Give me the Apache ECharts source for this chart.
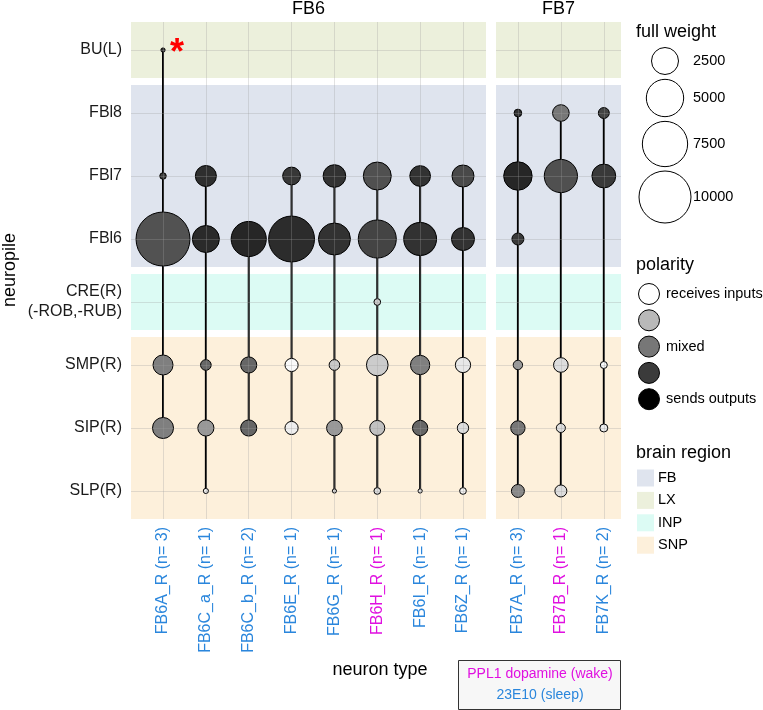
<!DOCTYPE html>
<html>
<head>
<meta charset="utf-8">
<script src="https://cdn.jsdelivr.net/npm/echarts@6/dist/echarts.min.js"></script>
<style>
html, body { margin: 0; padding: 0; background: #fff; }
#chart { width: 763px; height: 710px; }
</style>
</head>
<body>
<div id="chart"></div>
<script>
// neuropils (y), top to bottom
const neuropils = ['BU(L)', 'FBl8', 'FBl7', 'FBl6', 'CRE(R)\n(-ROB,-RUB)', 'SMP(R)', 'SIP(R)', 'SLP(R)'];
const neuropilRegion = ['LX', 'FB', 'FB', 'FB', 'INP', 'SNP', 'SNP', 'SNP'];
const regions = ['FB', 'LX', 'INP', 'SNP'];
const regionColors = ['#dfe4ee', '#ecf0dc', '#dcfbf4', '#fdf0db'];

// neuron types (x) per facet
const fb6Types = ['FB6A_R (n= 3)', 'FB6C_a_R (n= 1)', 'FB6C_b_R (n= 2)', 'FB6E_R (n= 1)', 'FB6G_R (n= 1)', 'FB6H_R (n= 1)', 'FB6I_R (n= 1)', 'FB6Z_R (n= 1)'];
const fb6Dopamine = [false, false, false, false, false, true, false, false];
const fb7Types = ['FB7A_R (n= 3)', 'FB7B_R (n= 1)', 'FB7K_R (n= 2)'];
const fb7Dopamine = [false, true, false];

// full weight, one row per neuron type, columns follow neuropils
const fb6Weight = [
  [20, null, 80, 10800, null, 1300, 1450, null],
  [null, null, 1450, 2500, null, 300, 800, 40],
  [null, null, null, 4400, null, 800, 800, null],
  [null, null, 1000, 7700, null, 500, 500, null],
  [null, null, 1700, 3600, null, 300, 750, 20],
  [null, null, 2700, 5200, 90, 1550, 680, 90],
  [null, null, 1400, 3800, null, 1200, 710, 20],
  [null, null, 1600, 1760, null, 710, 350, 90]
];
// polarity, 0 = receives inputs, 1 = sends outputs
const fb6Polarity = [
  [0.79, null, 0.74, 0.65, null, 0.47, 0.47, null],
  [null, null, 0.81, 0.83, null, 0.57, 0.37, 0.05],
  [null, null, null, 0.85, null, 0.57, 0.57, null],
  [null, null, 0.77, 0.82, null, 0.02, 0.06, null],
  [null, null, 0.79, 0.79, null, 0.19, 0.37, 0.12],
  [null, null, 0.66, 0.71, 0.18, 0.18, 0.22, 0.12],
  [null, null, 0.79, 0.79, null, 0.47, 0.57, 0.06],
  [null, null, 0.69, 0.79, null, 0.08, 0.12, 0.04]
];
const fb7Weight = [
  [null, 130, 2800, 400, null, 220, 610, 480],
  [null, 860, 3900, null, null, 640, 200, 400],
  [null, 320, 1900, null, null, 100, 144, null]
];
const fb7Polarity = [
  [null, 0.79, 0.85, 0.76, null, 0.37, 0.5, 0.43],
  [null, 0.5, 0.66, null, null, 0.12, 0.12, 0.12],
  [null, 0.71, 0.76, null, null, 0.02, 0.06, null]
];

// legend breaks
const weightBreaks = [2500, 5000, 7500, 10000];
const polarityBreaks = [0, 0.25, 0.5, 0.75, 1];
const polarityLabels = ['receives inputs', '', 'mixed', '', 'sends outputs'];

const FONT = '"Liberation Sans", Arial, sans-serif';
const BLUE = '#2a86dc';
const MAGENTA = '#e010e0';

// size: diameter from weight (area scale)
const sizeOf = w => 2 + 0.5 * Math.sqrt(w);

// white -> black in Lab lightness
const polColor = p => {
  const L = 100 * (1 - p);
  const Y = L > 8 ? Math.pow((L + 16) / 116, 3) : L / 903.3;
  const s = Y <= 0.0031308 ? 12.92 * Y : 1.055 * Math.pow(Y, 1 / 2.4) - 0.055;
  const g = Math.round(Math.max(0, Math.min(1, s)) * 255);
  return 'rgb(' + g + ',' + g + ',' + g + ')';
};

const rowIdx = neuropils.map((_, i) => i);

// contiguous region bands
const bands = [];
neuropilRegion.forEach((r, i) => {
  const last = bands[bands.length - 1];
  if (last && last.region === r) last.end = i;
  else bands.push({ region: r, start: i, end: i });
});

const pointsOf = (weight, polarity) => {
  const pts = [];
  weight.forEach((row, t) => row.forEach((w, n) => {
    if (w != null) pts.push([t, n, w, polarity[t][n]]);
  }));
  return pts;
};
const stemsOf = weight => weight.map((row, t) => {
  const idx = row.map((w, n) => (w != null ? n : null)).filter(n => n != null);
  return [t, Math.min(...idx), Math.max(...idx)];
});

const Y_PAD = 0.445;

const makeSeries = (g, types, weight, polarity) => [
  {
    type: 'scatter', xAxisIndex: g, yAxisIndex: g, data: [], silent: true, z: 1,
    markArea: {
      silent: true,
      data: bands.map(b => [
        { yAxis: b.start - Y_PAD, itemStyle: { color: regionColors[regions.indexOf(b.region)] } },
        { yAxis: b.end + Y_PAD }
      ])
    }
  },
  {
    type: 'scatter', xAxisIndex: g, yAxisIndex: g, data: [], silent: true, z: 2,
    markLine: {
      silent: true, symbol: 'none', animation: false,
      label: { show: false },
      lineStyle: { color: 'rgba(160,160,160,0.3)', width: 1, type: 'solid' },
      data: types.map((_, i) => ({ xAxis: i })).concat(rowIdx.map(i => ({ yAxis: i })))
    }
  },
  {
    type: 'custom', xAxisIndex: g, yAxisIndex: g, z: 3, silent: true,
    data: stemsOf(weight),
    renderItem: (params, api) => {
      const a = api.coord([api.value(0), api.value(1)]);
      const b = api.coord([api.value(0), api.value(2)]);
      return { type: 'line', shape: { x1: a[0], y1: a[1], x2: b[0], y2: b[1] }, style: { stroke: '#000', lineWidth: 2 } };
    }
  },
  {
    type: 'scatter', xAxisIndex: g, yAxisIndex: g, z: 4,
    data: pointsOf(weight, polarity),
    symbolSize: v => sizeOf(v[2]),
    itemStyle: { color: p => polColor(p.data[3]), borderColor: '#000', borderWidth: 1, opacity: 1 }
  }
];

const xAxisOf = (g, types, dop, min, max) => ({
  type: 'value', gridIndex: g, min: min, max: max,
  axisLine: { show: false },
  splitLine: { show: false },
  axisTick: { show: true, customValues: types.map((_, i) => i), length: 5, lineStyle: { color: '#cfcfcf' } },
  axisLabel: {
    customValues: types.map((_, i) => i), rotate: 90, margin: 8,
    fontFamily: FONT, fontSize: 16,
    formatter: v => { const i = Math.round(v); return '{' + (dop[i] ? 'm' : 'b') + '|' + types[i] + '}'; },
    rich: { b: { color: BLUE, fontFamily: FONT, fontSize: 16 }, m: { color: MAGENTA, fontFamily: FONT, fontSize: 16 } }
  }
});

const yAxisOf = (g, showLabels) => ({
  type: 'value', gridIndex: g, inverse: true, min: -Y_PAD, max: neuropils.length - 1 + Y_PAD,
  axisLine: { show: false },
  splitLine: { show: false },
  axisTick: { show: showLabels, customValues: rowIdx, length: 5, lineStyle: { color: '#cfcfcf' } },
  axisLabel: {
    show: showLabels, customValues: rowIdx, margin: 9,
    color: '#1a1a1a', fontFamily: FONT, fontSize: 16, lineHeight: 20, align: 'right',
    formatter: v => neuropils[Math.round(v)]
  }
});

const graphics = [];
const txt = (x, y, text, opts) => graphics.push({
  type: 'text', x: x, y: y, silent: true, z: 100,
  style: Object.assign({ text: text, fill: '#000', font: '18px ' + FONT, textVerticalAlign: 'middle', textAlign: 'left' }, opts || {})
});

// facet strips and axis titles
txt(308.5, 9, 'FB6', { textAlign: 'center' });
txt(558.5, 9, 'FB7', { textAlign: 'center' });
txt(380, 670, 'neuron type', { textAlign: 'center' });
graphics.push({
  type: 'text', x: 10, y: 270, rotation: Math.PI / 2, silent: true,
  style: { text: 'neuropile', fill: '#000', font: '18px ' + FONT, textAlign: 'center', textVerticalAlign: 'middle' }
});
// annotation asterisk next to BU(L)
txt(177, 54, '*', { fill: '#ff0000', font: 'bold 36px ' + FONT, textAlign: 'center' });

// legend: full weight
txt(636, 32, 'full weight');
const wY = [61, 98, 144, 197];
weightBreaks.forEach((w, i) => {
  graphics.push({ type: 'circle', silent: true, shape: { cx: 665, cy: wY[i], r: sizeOf(w) / 2 }, style: { fill: '#fff', stroke: '#000', lineWidth: 1 } });
  txt(693, wY[i], String(w), { font: '14.5px ' + FONT });
});

// legend: polarity
txt(636, 265, 'polarity');
polarityBreaks.forEach((p, i) => {
  const cy = 294 + i * 26.3;
  graphics.push({ type: 'circle', silent: true, shape: { cx: 649, cy: cy, r: 10.5 }, style: { fill: polColor(p), stroke: '#000', lineWidth: 1 } });
  if (polarityLabels[i]) txt(666, cy, polarityLabels[i], { font: '14.5px ' + FONT });
});

// legend: brain region
txt(636, 453, 'brain region');
regions.forEach((r, i) => {
  const cy = 478 + i * 22.4;
  graphics.push({ type: 'rect', silent: true, shape: { x: 637, y: cy - 8.5, width: 17, height: 17 }, style: { fill: regionColors[i] } });
  txt(658, cy, r, { font: '14.5px ' + FONT });
});

// caption box
graphics.push({ type: 'rect', silent: true, shape: { x: 458.5, y: 660.5, width: 162, height: 49 }, style: { fill: '#f7f7f7', stroke: '#333', lineWidth: 1 } });
txt(540, 674, 'PPL1 dopamine (wake)', { textAlign: 'center', fill: MAGENTA, font: '14px ' + FONT });
txt(540, 695, '23E10 (sleep)', { textAlign: 'center', fill: BLUE, font: '14px ' + FONT });

const chart = echarts.init(document.getElementById('chart'), null, { renderer: 'canvas' });
chart.setOption({
  animation: false,
  backgroundColor: '#fff',
  grid: [
    { left: 131, top: 22, width: 355, height: 497 },
    { left: 496, top: 22, width: 125, height: 497 }
  ],
  xAxis: [
    xAxisOf(0, fb6Types, fb6Dopamine, -0.747, 7.537),
    xAxisOf(1, fb7Types, fb7Dopamine, -0.51, 2.4)
  ],
  yAxis: [yAxisOf(0, true), yAxisOf(1, false)],
  series: makeSeries(0, fb6Types, fb6Weight, fb6Polarity).concat(makeSeries(1, fb7Types, fb7Weight, fb7Polarity)),
  graphic: graphics
});
</script>
</body>
</html>
